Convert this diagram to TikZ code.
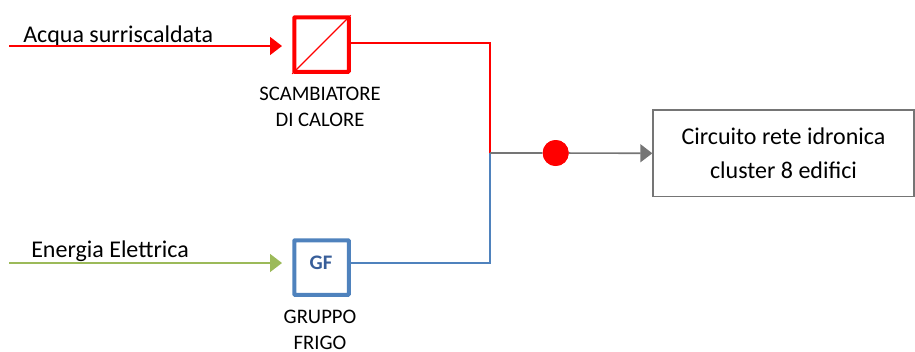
\documentclass[tikz,border=0pt]{standalone}
\usepackage{fontspec}
\setmainfont{Carlito}
\usetikzlibrary{arrows.meta}
\definecolor{rosso}{rgb}{1,0,0}
\definecolor{blu}{rgb}{0.31,0.51,0.74}
\definecolor{verde}{rgb}{0.61,0.73,0.35}
\definecolor{grigio}{rgb}{0.46,0.46,0.46}
\definecolor{blutesto}{rgb}{0.22,0.37,0.60}
\tikzset{
  blocco/.style={draw, minimum width=54.5*0.75pt, minimum height=54.5*0.75pt, line width=3pt, rounded corners=0.5pt, inner sep=0pt},
  punta/.style={-{Triangle[length=9pt,width=13.5pt]}},
  etichetta/.style={font=\fontsize{15.5}{19.5}\selectfont, align=center, text=black, inner sep=0pt},
  titolo/.style={font=\fontsize{18}{18}\selectfont, text=black, inner sep=0pt}
}
\begin{document}
\begin{tikzpicture}[x=0.75pt,y=-0.75pt]
      \useasboundingbox (0,0) rectangle (915,351);
      \node[blocco, draw=rosso] (scambiatore) at (321.5,44.5) {};
      \node[blocco, draw=blu, text=blutesto, font=\fontsize{15.5}{15.5}\selectfont\bfseries, text depth=0pt] (frigo) at (321.5,267.5) {};
      \node[draw=grigio, line width=1pt, minimum width=261*0.75pt, minimum height=86.5*0.75pt, align=center, font=\fontsize{18}{25.5}\selectfont, inner sep=0pt] (circuito) at (783.5,153.3) {Circuito rete idronica\\cluster 8 edifici};
      \node[fill=rosso, circle, minimum size=26*0.75pt, inner sep=0pt] (pompa) at (555.7,153) {};
      \node[text=blutesto, font=\fontsize{15.5}{15.5}\selectfont\bfseries, inner sep=0pt] (sigla) at (321,263) {GF};
      \node[etichetta] (testoscamb) at (320,107) {SCAMBIATORE\\DI CALORE};
      \node[etichetta] (testofrigo) at (320,330) {GRUPPO\\FRIGO};
      \node[titolo, anchor=base west] (testoacqua) at (23,42) {Acqua surriscaldata};
      \node[titolo, anchor=base west] (testoenergia) at (31,257) {Energia Elettrica};
      \coordinate (acqua) at (9,46);
      \coordinate (energia) at (9,263);
      \coordinate (giunto) at (490,153);
      \coordinate (uscitarossa) at (351,43);
      \coordinate (uscitablu) at (351,263);
      \draw[red, line width=1pt] (scambiatore.south west) -- (scambiatore.north east);
      \draw[rosso, line width=1.2pt, punta] (acqua) -- (282,46);
      \draw[verde, line width=1.2pt, punta] (energia) -- (282,263);
      \draw[rosso, line width=1.2pt] (uscitarossa) -| (giunto);
      \draw[blu, line width=1.2pt] (uscitablu) -| (giunto);
      \draw[grigio, line width=1.2pt, punta] (giunto) -- (pompa) -- (circuito.west);
      \node[fill=rosso, circle, minimum size=26*0.75pt, inner sep=0pt] at (pompa) {};
    \end{tikzpicture}
\end{document}
